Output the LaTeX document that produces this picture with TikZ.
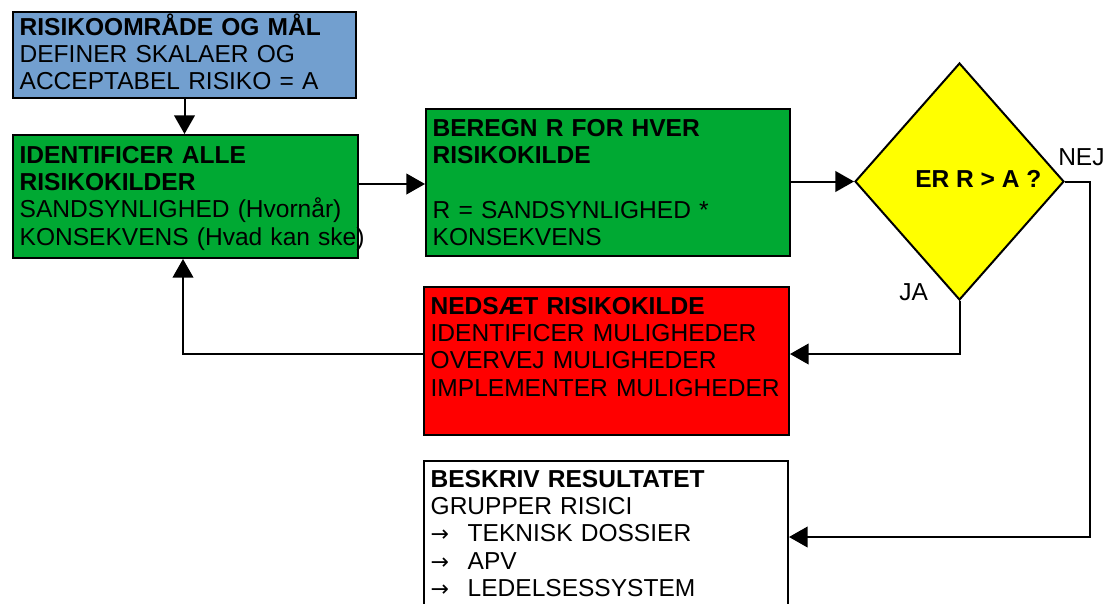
\documentclass[tikz,border=0pt]{standalone}
\usepackage{fontspec}
\setmainfont{Liberation Sans}
\newfontfamily\djv{DejaVu Sans}
\usetikzlibrary{arrows.meta,shapes.geometric}
\definecolor{cblue}{RGB}{114,159,207}
\definecolor{cgreen}{RGB}{0,169,51}
\definecolor{cred}{RGB}{255,0,0}
\definecolor{cyel}{RGB}{255,255,0}
\newcommand{\arw}{\makebox[27.75pt][l]{\djv\fontsize{16.5}{16.5}\selectfont →}}
\newcommand{\fnt}{\fontsize{18.4}{20.6}\selectfont}
\begin{document}
\begin{tikzpicture}[x=0.75pt,y=-0.75pt,
  box/.style={draw=black,line width=1.5pt,anchor=north west,align=left,
    inner xsep=5pt,inner ysep=0pt,font=\fnt},
  lbl/.style={inner sep=0pt,anchor=base west,font=\fnt},
  arr/.style={line width=1.5pt,-{Triangle[length=14pt,width=15.5pt]}},
  ln/.style={line width=1.5pt}]
\useasboundingbox (0,0) rectangle (1106,603);

\node[box,fill=cblue,text width=247.25pt,text height=17.25pt,text depth=47.25pt] (b) at (12,11)
  {\textbf{RISIKOOMRÅDE OG MÅL}\\DEFINER SKALAER OG\\ACCEPTABEL RISIKO = A};

\node[box,fill=cgreen,text width=248.75pt,text height=21pt,text depth=71.25pt] (g1) at (12,134)
  {\textbf{IDENTIFICER ALLE}\\\textbf{RISIKOKILDER}\\\mbox{SANDSYNLIGHED (Hvornår)}\\\mbox{KONSEKVENS (Hvad kan ske)}};

\node[box,fill=cgreen,text width=263pt,text height=20.25pt,text depth=90pt] (g2) at (425,108)
  {\textbf{BEREGN R FOR HVER}\\\textbf{RISIKOKILDE}\\[20.6pt]R = SANDSYNLIGHED *\\KONSEKVENS};

\node[draw=black,line width=1.5pt,fill=cyel,shape=diamond,inner sep=0pt,
  minimum width=156.75pt,minimum height=177.75pt] (d) at (959.5,181.5) {};
\node[lbl,font=\fnt\bfseries] (dq) at (915,187) {ER R > A ?};
\node[lbl] (nej) at (1058,165) {NEJ};
\node[lbl] (ja) at (899,300) {JA};

\node[box,fill=cred,text width=263.75pt,text height=20.25pt,text depth=90.75pt] (r) at (423,286)
  {\textbf{NEDSÆT RISIKOKILDE}\\IDENTIFICER MULIGHEDER\\OVERVEJ MULIGHEDER\\\mbox{IMPLEMENTER MULIGHEDER}};

\node[box,fill=white,text width=263pt,text height=19.5pt,text depth=108pt] (w) at (423,460)
  {\textbf{BESKRIV RESULTATET}\\GRUPPER RISICI\\\arw TEKNISK DOSSIER\\\arw APV\\\arw LEDELSESSYSTEM};

\draw[arr] (b.south) -- (b.south |- g1.north);
\draw[arr] (g1.east |- 0,184) -- (g2.west |- 0,184);
\draw[arr] (g2.east |- d.west) -- (d.west);
\draw[arr] (d.south) |- (r.east |- 0,354);
\draw[arr] (r.west |- 0,354) -| (183,0 |- g1.south);
\draw[arr] (d.east) -- ++(25,0) |- (w.east |- 0,537);
\end{tikzpicture}
\end{document}
